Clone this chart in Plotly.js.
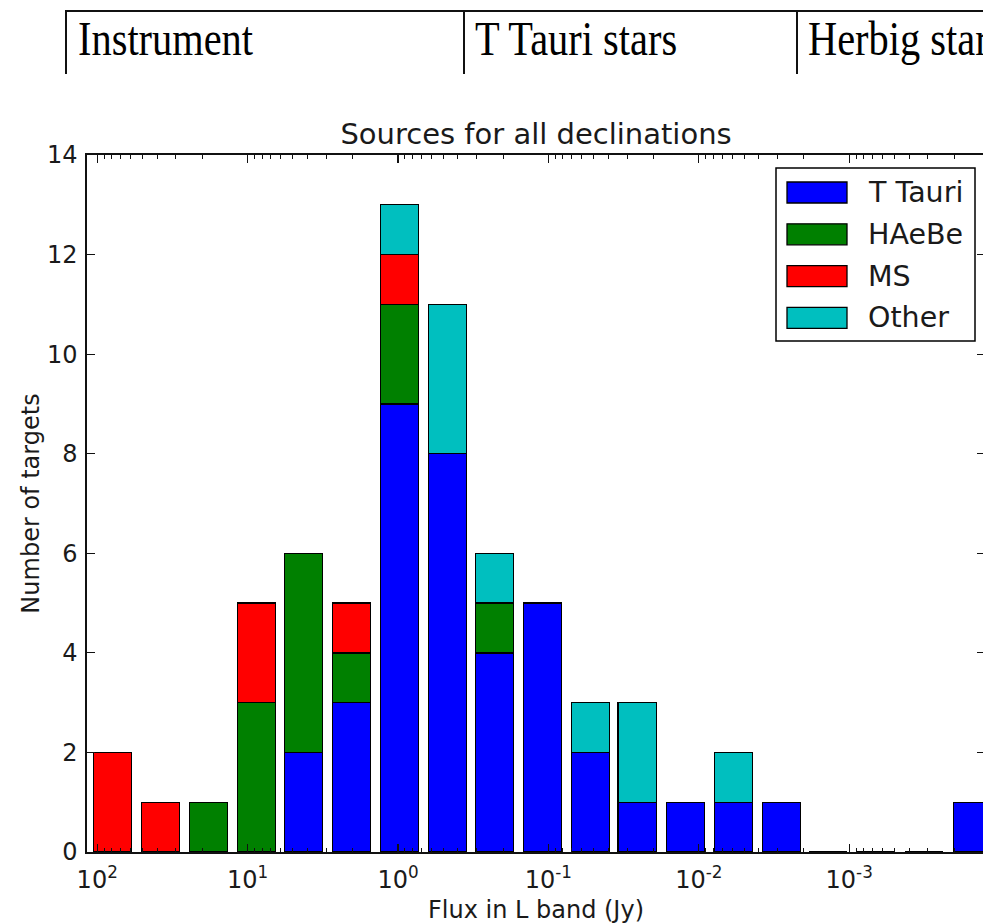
<!DOCTYPE html>
<html>
<head>
<meta charset="utf-8">
<script src="https://cdn.plot.ly/plotly-3.0.1.min.js"></script>
<style>
  html, body { margin: 0; padding: 0; background: #fff; overflow: hidden; width: 983px; height: 924px; }
  #chart { position: absolute; left: 0; top: 0; width: 1000px; height: 924px; }
  .tline { position: absolute; background: #111; }
  .tcell { position: absolute; font-family: "Liberation Serif", "Times New Roman", serif; font-size: 40px; color: #000;
           transform: scale(1.01, 1.2); transform-origin: left bottom; line-height: 1; white-space: nowrap; }
</style>
</head>
<body>
<div id="chart"></div>
<div class="tline" style="left:65px; top:10px; width:940px; height:2px;"></div>
<div class="tline" style="left:65px; top:10px; width:2px; height:64px;"></div>
<div class="tline" style="left:463px; top:10px; width:2px; height:64px;"></div>
<div class="tline" style="left:796px; top:10px; width:2px; height:64px;"></div>
<div class="tcell" id="c1" style="left:78px; top:23px;">Instrument</div>
<div class="tcell" id="c2" style="left:475px; top:23px;">T Tauri stars</div>
<div class="tcell" id="c3" style="left:808px; top:23px;">Herbig stars</div>
<script>
// ---- data ----
// centres of the histogram bins, log10 of the L-band flux in Jy
const binCentersLog10 = [1.90, 1.58, 1.26, 0.94, 0.63, 0.31, -0.01, -0.33, -0.64, -0.96,
                         -1.28, -1.59, -1.91, -2.23, -2.55, -2.86, -3.18, -3.50, -3.82];
const tTauri = [0, 0, 0, 0, 2, 3, 9, 8, 4, 5, 2, 1, 1, 1, 1, 0, 0, 0, 1];
const hAeBe  = [0, 0, 1, 3, 4, 1, 2, 0, 1, 0, 0, 0, 0, 0, 0, 0, 0, 0, 0];
const ms     = [2, 1, 0, 2, 0, 1, 1, 0, 0, 0, 0, 0, 0, 0, 0, 0, 0, 0, 0];
const other  = [0, 0, 0, 0, 0, 0, 1, 3, 1, 0, 1, 2, 0, 1, 0, 0, 0, 0, 0];
const seriesNames  = ["T Tauri", "HAeBe", "MS", "Other"];
const seriesColors = ["#0000ff", "#008000", "#ff0000", "#00bfbf"];
const majorTickVals = [2, 1, 0, -1, -2, -3];
const majorTickText = ["10<sup>2</sup>", "10<sup>1</sup>", "10<sup>0</sup>", "10<sup>-1</sup>", "10<sup>-2</sup>", "10<sup>-3</sup>"];
const titleText = "Sources for all declinations";
const xTitle = "Flux in L band (Jy)";
const yTitle = "Number of targets";

// ---- layout geometry ----
const W = 1000, H = 924;
const L = 87, R = 985, T = 155, B = 852;
const xRange = [2.068, -3.903];
const binWidth = 0.254;
const font = "DejaVu Sans, Verdana, sans-serif";
const txt = "#1a1a1a";

const allSeries = [tTauri, hAeBe, ms, other];
const traces = allSeries.map((vals, i) => ({
  type: "bar",
  x: binCentersLog10,
  y: vals,
  name: seriesNames[i],
  width: binWidth,
  marker: { color: seriesColors[i], line: { color: "#000", width: 1.3 } },
  showlegend: false,
  hoverinfo: "x+y+name"
}));

// minor log ticks
const minorVals = [];
for (let n = 2; n >= -4; n--) {
  for (let k = 2; k <= 9; k++) {
    const v = n + Math.log10(k);
    if (v < xRange[0] && v > xRange[1]) minorVals.push(v);
  }
}

// custom legend (pixel geometry converted to paper coordinates)
const px = x => (x - L) / (R - L);
const py = y => (B - y) / (B - T);
const shapes = [{
  type: "rect", xref: "paper", yref: "paper",
  x0: px(776), x1: px(975), y0: py(341), y1: py(168),
  line: { color: "#000", width: 1.5 }, fillcolor: "#fff", layer: "above"
}];
const annotations = [];
seriesNames.forEach((nm, i) => {
  const cy = 192.5 + i * 41.8;
  shapes.push({
    type: "rect", xref: "paper", yref: "paper",
    x0: px(787), x1: px(847), y0: py(cy + 10.5), y1: py(cy - 10.5),
    line: { color: "#000", width: 1.3 }, fillcolor: seriesColors[i], layer: "above"
  });
  annotations.push({
    xref: "paper", yref: "paper", x: px(866), y: py(cy),
    xanchor: "left", yanchor: "middle", showarrow: false,
    text: nm, font: { family: font, size: 28.5, color: txt }
  });
});

const layout = {
  width: W, height: H,
  margin: { l: L, r: W - R, t: T, b: H - B, pad: 0 },
  paper_bgcolor: "#fff", plot_bgcolor: "#fff",
  barmode: "stack",
  bargap: 0,
  title: { text: titleText, font: { family: font, size: 29, color: txt },
           x: 0.5, xref: "paper", xanchor: "center", y: 1 - 134 / H, yref: "container", yanchor: "middle" },
  xaxis: {
    range: xRange, showgrid: false, zeroline: false,
    showline: true, linecolor: "#111", linewidth: 1.6, mirror: "allticks",
    ticks: "inside", ticklen: 8, tickwidth: 1.2, tickcolor: "#111",
    tickmode: "array", tickvals: majorTickVals, ticktext: majorTickText,
    tickfont: { family: font, size: 24, color: txt },
    ticklabelstandoff: 6,
    minor: { tickmode: "array", tickvals: minorVals, ticks: "inside", ticklen: 4, tickwidth: 1, tickcolor: "#111", showgrid: false },
    title: { text: xTitle, font: { family: font, size: 24, color: txt }, standoff: 10 }
  },
  yaxis: {
    range: [0, 14], showgrid: false, zeroline: false,
    showline: true, linecolor: "#111", linewidth: 1.6, mirror: "allticks",
    ticks: "inside", ticklen: 8, tickwidth: 1.2, tickcolor: "#111",
    tickmode: "linear", tick0: 0, dtick: 2,
    tickfont: { family: font, size: 24, color: txt },
    ticklabelstandoff: 3,
    title: { text: yTitle, font: { family: font, size: 24, color: txt }, standoff: 0 }
  },
  shapes: shapes,
  annotations: annotations
};

Plotly.newPlot("chart", traces, layout, { staticPlot: true, displayModeBar: false });
</script>
</body>
</html>
